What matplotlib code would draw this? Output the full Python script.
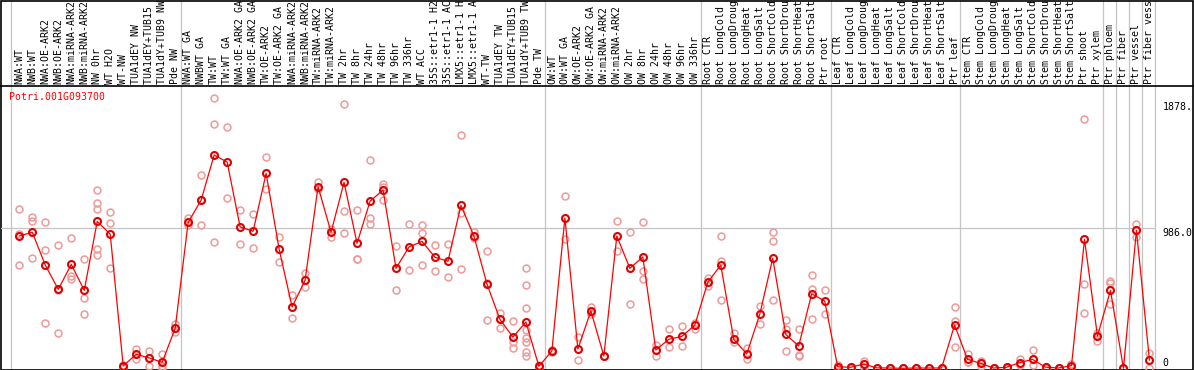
import matplotlib
matplotlib.use('Agg')
import matplotlib.pyplot as plt
from matplotlib.patches import Rectangle
from matplotlib.transforms import blended_transform_factory

gene = "Potri.001G093700"

labels = [
    "NWA:WT", "NWB:WT", "NWA:OE-ARK2", "NWB:OE-ARK2", "NWA:miRNA-ARK2", "NWB:miRNA-ARK2",
    "NW 0hr", "WT H2O", "WT-NW", "TUA1dEY NW", "TUA1dEY+TUB15 NW", "TUA1dY+TUB9 NW", "Pde NW",
    "NWA:WT GA", "NWBWT GA", "TW:WT", "TW:WT GA", "NWA:OE-ARK2 GA", "NWB:OE-ARK2 GA",
    "TW:OE-ARK2", "TW:OE-ARK2 GA", "NWA:miRNA-ARK2 GA", "NWB:miRNA-ARK2 GA", "TW:miRNA-ARK2",
    "TW:miRNA-ARK2 GA", "TW 2hr", "TW 8hr", "TW 24hr", "TW 48hr", "TW 96hr", "TW 336hr",
    "WT ACC", "35S::etr1-1 H2O", "35S::etr1-1 ACC", "LMX5::etr1-1 H2O", "LMX5::etr1-1 ACC",
    "WT-TW", "TUA1dEY TW", "TUA1dEY+TUB15 TW", "TUA1dY+TUB9 TW", "Pde TW",
    "OW:WT", "OW:WT GA", "OW:OE-ARK2", "OW:OE-ARK2 GA", "OW:miRNA-ARK2", "OW:miRNA-ARK2 GA",
    "OW 2hr", "OW 8hr", "OW 24hr", "OW 48hr", "OW 96hr", "OW 336hr",
    "Root CTR", "Root LongCold", "Root LongDrought", "Root LongHeat", "Root LongSalt",
    "Root ShortCold", "Root ShortDrought", "Root ShortHeat", "Root ShortSalt", "Ptr root",
    "Leaf CTR", "Leaf LongCold", "Leaf LongDrought", "Leaf LongHeat", "Leaf LongSalt",
    "Leaf ShortCold", "Leaf ShortDrought", "Leaf ShortHeat", "Leaf ShortSalt", "Ptr leaf",
    "Stem CTR", "Stem LongCold", "Stem LongDrought", "Stem LongHeat", "Stem LongSalt",
    "Stem ShortCold", "Stem ShortDrought", "Stem ShortHeat", "Stem ShortSalt", "Ptr shoot",
    "Ptr xylem", "Ptr phloem", "Ptr fiber", "Ptr vessel", "Ptr fiber vessel",
]

group_sizes = [13, 28, 12, 10, 10, 11, 1, 1, 1, 1]

means = [
    932, 958, 727, 556, 732, 549, 1035, 944, 16, 99, 73, 42, 282,
    1028, 1185, 1502, 1453, 995, 965, 1373, 840, 432, 620, 1279, 958, 1310, 880, 1176,
    1256, 704, 854, 894, 782, 754, 1148, 930, 594, 345, 220, 326, 14,
    122, 1059, 136, 404, 87, 932, 704, 784, 129, 204, 225, 303,
    606, 727, 204, 101, 380, 775, 239, 157, 525, 474,
    11, 7, 30, 3, 2, 0, 2, 2, 2, 305,
    63, 35, 2, 7, 40, 63, 8, 2, 19, 908, 227,
    549, 0, 972, 58,
]

replicates = [
    [1122, 944, 727], [1068, 1037, 775], [1028, 831, 319], [868, 554, 246],
    [918, 650, 631], [768, 493, 382], [1256, 1164, 1120, 840, 796], [1101, 1021, 704],
    [12, 16, 20], [138, 99, 63], [122, 73, 14], [103, 42, 16, 0], [310, 282, 258],
    [1056, 1028, 1007], [1359, 1185, 1007], [1902, 1718, 887], [1697, 1199],
    [1113, 875], [1085, 847], [1488, 1261], [927, 747], [518, 354], [671, 570],
    [1314, 1261], [983, 927], [1859, 1106, 951], [1113, 768, 768], [1467, 1056, 1014],
    [1298, 1279, 1183], [859, 551], [1014, 690], [1009, 951, 725], [868, 683],
    [875, 641], [1641, 1092, 697], [962, 916], [824, 603, 340], [392, 345, 282],
    [335, 183, 141], [704, 587, 423, 270, 211, 187, 117, 89], [23, 7],
    [129, 115], [1211, 911], [218, 56], [432, 395, 385], [90, 87, 84], [1037, 826],
    [958, 451], [1028, 685, 627], [164, 89], [275, 148], [296, 155], [319, 279],
    [636, 582], [930, 756, 479], [251, 183], [141, 63], [439, 310], [960, 894, 479],
    [338, 275, 122], [277, 94, 85], [657, 558, 347], [549, 380],
    [0, 10, 22], [5, 7, 10], [54, 30, 6], [5, 3, 0], [4, 2, 0], [0, 0, 0],
    [4, 2, 0], [4, 2, 0], [4, 2, 0], [430, 335, 148],
    [101, 47, 41], [54, 35, 16], [5, 2, 0], [10, 7, 4], [63, 40, 21], [129, 63, 21],
    [12, 8, 4], [3, 2, 1], [28, 19, 10], [1754, 592, 387], [251, 227, 194],
    [615, 599, 451], [0, 0, 0], [1016, 972, 925], [106, 58, 0],
]

ytick_values = [0, 986, 1878]
ytick_labels = ["0", "986.0", "1878."]

MAX_LABEL_CHARS = 14

W, H = 1194, 370
fig = plt.figure(figsize=(W / 100, H / 100), dpi=100)
FONT = dict(family="DejaVu Sans Mono", size=7.1)

# background (pixel coordinates)
bg = fig.add_axes([0, 0, 1, 1])
bg.set_axis_off()
bg.set_xlim(0, W)
bg.set_ylim(H, 0)
bg.set_autoscale_on(False)

# data axes
left_px, right_px, top_px, bot_px = 1, 1156, 86, 369.5
ax = fig.add_axes([left_px / W, (H - bot_px) / H, (right_px - left_px) / W, (bot_px - top_px) / H])
ax.set_facecolor("none")
for s in ax.spines.values():
    s.set_visible(False)
ax.set_xticks([])
ax.set_yticks([])
x0_px, dx_px = 19.3, 12.99
ax.set_xlim((left_px - x0_px) / dx_px, (right_px - x0_px) / dx_px)
ypx0, ypx986 = 368.3, 228.3
scale = 986 / (ypx0 - ypx986)
ax.set_ylim(-(bot_px - ypx0) * scale, (ypx0 - top_px) * scale)

trans_xd_yp = blended_transform_factory(ax.transData, bg.transData)
trans_xp_yd = blended_transform_factory(bg.transData, ax.transData)

# separators
seps = [-0.66]
end = -1
for g in group_sizes:
    end += g
    seps.append(end + 0.45)
for s in seps:
    bg.plot([s, s], [0, bot_px], transform=trans_xd_yp, color="#c4c4c4", lw=0.9, zorder=1)

# horizontal gridline
ax.axhline(ytick_values[1], color="#c4c4c4", lw=0.9, zorder=1)

# frame
bg.add_patch(Rectangle((0.5, 0.5), 1192, 369, fill=False, edgecolor="black", lw=1.2, zorder=3))
bg.plot([0, 1192.5], [85.5, 85.5], color="black", lw=1.2, zorder=3)

# header labels
for i, lab in enumerate(labels):
    bg.text(i, 84, lab[:MAX_LABEL_CHARS], transform=trans_xd_yp, rotation=90, ha="center",
            va="bottom", color="black", **FONT)

# replicates
rx, ry = [], []
for i, reps in enumerate(replicates):
    for v in reps:
        rx.append(i)
        ry.append(v)
ax.plot(rx, ry, linestyle="none", marker="o", ms=5.0, mfc="none", mec="#ee9a9a", mew=1.1,
        zorder=2, clip_on=False)

# means
ax.plot(range(len(means)), means, color="#ff0000", lw=0.9, marker="o", ms=5.0, mfc="none",
        mec="#e00000", mew=1.5, zorder=4, clip_on=False)

# title
bg.text(9, 97, gene, color="#ff0000", ha="left", va="center", **FONT)

# y tick labels on right
for v, t in zip(ytick_values, ytick_labels):
    va = "bottom" if v == 0 else "top"
    bg.text(1162.5, v, t, transform=trans_xp_yd, ha="left", va=va, color="black", **FONT)

fig.savefig("out.png", dpi=100)
